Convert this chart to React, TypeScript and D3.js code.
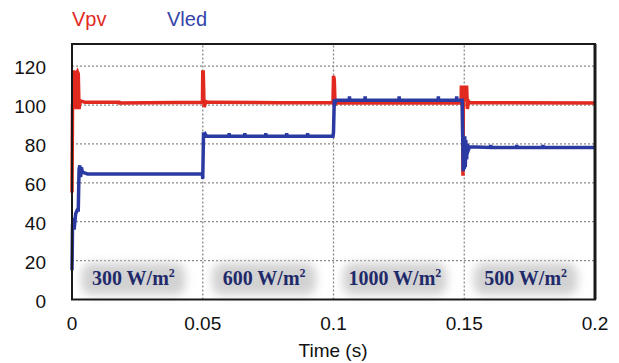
import React from "react";
import * as d3 from "d3";

const W = 619;
const H = 363;

const yTicks = [0, 20, 40, 60, 80, 100, 120];
const xTicks = [0, 0.05, 0.1, 0.15, 0.2];
const xTickLabels = ["0", "0.05", "0.1", "0.15", "0.2"];

const segments = [0.025, 0.075, 0.125, 0.175];
const segmentLabels = ["300", "600", "1000", "500"];

// Vpv (red) [time s, volts]
const vpvTime = [
  0, 0.0002, 0.0004, 0.0006, 0.0009, 0.0012, 0.0014, 0.0016, 0.0018, 0.0021, 0.0024, 0.0027, 0.003, 0.0035, 0.005,
  0.018, 0.0181, 0.0499, 0.05, 0.0502, 0.0505, 0.0508, 0.0512, 0.052, 0.08, 0.0995,
  0.0998, 0.1, 0.1003, 0.1006, 0.101, 0.102, 0.13, 0.1488,
  0.1489, 0.1491, 0.1493, 0.1495, 0.1497, 0.1499, 0.1501, 0.1503, 0.1505, 0.1507, 0.1509, 0.1512, 0.1516, 0.152, 0.2,
];
const vpvValue = [
  55, 100, 102, 117, 117, 116, 100, 98, 116, 117, 116, 98, 101, 102, 101.4,
  101.4, 101, 101.4, 117, 117, 99, 100, 101.8, 101.4, 101.2, 101.2,
  101, 115, 113, 100, 101.5, 101, 101, 101,
  110, 102, 110, 63.6, 110, 102, 110, 102, 110, 102, 110, 98, 102, 101.2, 101,
];

// Vled (blue) [time s, volts]
const vledTime = [
  0, 0.0002, 0.0005, 0.0008, 0.0011, 0.0014, 0.0017, 0.002, 0.0024, 0.0027, 0.003, 0.0033, 0.0036, 0.004, 0.006,
  0.0499, 0.05, 0.0503, 0.0506, 0.051, 0.0515,
  0.06, 0.0601, 0.0602, 0.066, 0.0661, 0.0662, 0.074, 0.0741, 0.0742, 0.082, 0.0821, 0.0822, 0.09, 0.0901, 0.0902,
  0.0998, 0.1, 0.1003, 0.1006, 0.101,
  0.106, 0.1061, 0.1062, 0.112, 0.1121, 0.1122, 0.125, 0.1251, 0.1252, 0.14, 0.1401, 0.1402, 0.147, 0.1471, 0.1472,
  0.1492, 0.1494, 0.1496, 0.1498, 0.15, 0.1502, 0.1504, 0.1506, 0.1509, 0.1512, 0.1516, 0.152,
  0.16, 0.1601, 0.1602, 0.17, 0.1701, 0.1702, 0.18, 0.1801, 0.1802, 0.2,
];
const vledValue = [
  15, 38, 42, 36, 40, 44, 45, 46, 46, 67, 69, 63, 68, 65.5, 64.5,
  64.5, 62, 86, 84, 85, 84,
  84, 85.5, 84, 84, 85.5, 84, 84, 85.5, 84, 84, 85.5, 84, 84, 85.5, 84,
  84, 86, 103, 101, 102.5,
  102.5, 104.5, 102.5, 102.5, 104.5, 102.5, 102.5, 104.5, 102.5, 102.5, 104.5, 102.5, 102.5, 104.5, 102.5,
  102.5, 85, 66, 84, 67, 84, 68, 82, 72, 80, 77, 78.5,
  78.2, 79.5, 78.2, 78.2, 79.5, 78.2, 78.2, 79.5, 78.2, 78.2,
];

const x = d3.scaleLinear().domain([0, 0.2]).range([72, 595]);
const y = d3.scaleLinear().domain([0, 131.4]).range([299.5, 44]);

const line = d3
  .line<[number, number]>()
  .x((d) => x(d[0]))
  .y((d) => y(d[1]));

const vpvData: [number, number][] = vpvTime.map((t, i) => [t, vpvValue[i]]);
const vledData: [number, number][] = vledTime.map((t, i) => [t, vledValue[i]]);

export default function App() {
  const [x0, x1] = x.range();
  const [yb, yt] = y.range();
  return (
    <svg
      width={W}
      height={H}
      style={{ position: "absolute", left: 0, top: 0, background: "#fff" }}
      fontFamily="Arial, 'Liberation Sans', sans-serif"
    >
      <defs>
        <filter id="glow" x="-30%" y="-60%" width="160%" height="220%">
          <feGaussianBlur stdDeviation="5" />
        </filter>
      </defs>
      {/* grid */}
      {yTicks
        .filter((v) => v > 0)
        .map((v) => (
          <line key={"gy" + v} x1={x0} x2={x1} y1={y(v)} y2={y(v)} stroke="#8a8a8a" strokeWidth={1.3} strokeDasharray="2,2" />
        ))}
      {xTicks
        .filter((v) => v > 0 && v < 0.2)
        .map((v) => (
          <line key={"gx" + v} x1={x(v)} x2={x(v)} y1={yb} y2={yt} stroke="#8a8a8a" strokeWidth={1.3} strokeDasharray="2,2" />
        ))}
      {/* irradiance labels */}
      {segments.map((s, i) => (
        <g key={"seg" + i}>
          <rect x={x(s) - 56} y={263} width={104} height={32} rx={10} fill="#d2d2d2" filter="url(#glow)" />
          <text
            x={x(s) - 4}
            y={285}
            textAnchor="middle"
            fontFamily="'Liberation Serif', 'Times New Roman', serif"
            fontWeight="bold"
            fontSize={20}
            fill="#1f2a6b"
          >
            {segmentLabels[i]} W/m
            <tspan fontSize={12} dy={-8}>2</tspan>
          </text>
        </g>
      ))}
      {/* series */}
      <path d={line(vpvData) || ""} fill="none" stroke="#e2291f" strokeWidth={3.5} strokeLinejoin="miter" />
      <path d={line(vledData) || ""} fill="none" stroke="#2b3aa3" strokeWidth={3.5} strokeLinejoin="miter" />
      {/* frame */}
      <rect x={x0} y={yt} width={x1 - x0} height={yb - yt} fill="none" stroke="#1a1a1a" strokeWidth={2} />
      <line x1={x1} x2={x1} y1={yt} y2={yb} stroke="#1a1a1a" strokeWidth={3} />
      {/* y tick labels */}
      {yTicks.map((v) => (
        <text key={"yl" + v} x={46} y={y(v) + 8} textAnchor="end" fontSize={19} fill="#111">
          {v}
        </text>
      ))}
      {/* x tick labels */}
      {xTicks.map((v, i) => (
        <text key={"xl" + v} x={x(v)} y={330} textAnchor="middle" fontSize={19} fill="#111">
          {xTickLabels[i]}
        </text>
      ))}
      <text x={333} y={357} textAnchor="middle" fontSize={19} fill="#111">
        Time (s)
      </text>
      {/* legend */}
      <text x={72} y={26} fontSize={20} fill="#e2291f">
        Vpv
      </text>
      <text x={167} y={26} fontSize={20} fill="#3344aa">
        Vled
      </text>
    </svg>
  );
}
